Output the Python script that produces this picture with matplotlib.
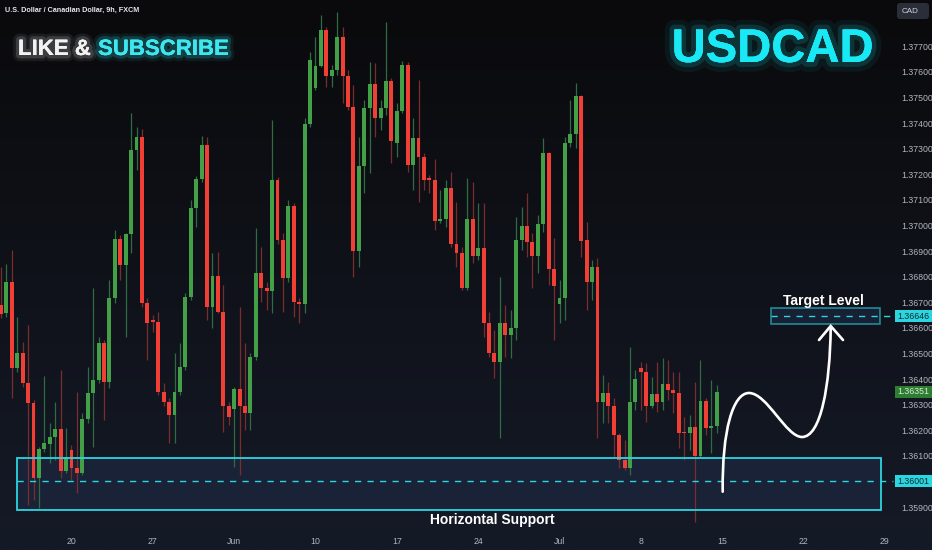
import numpy as np
import matplotlib
matplotlib.use('Agg')
import matplotlib.pyplot as plt
from matplotlib.patches import Rectangle, FancyBboxPatch, PathPatch
from matplotlib.path import Path
import matplotlib.patheffects as pe
import matplotlib.transforms as mtransforms
from matplotlib import font_manager

# ---------------- data (USDCAD, 9h candles) ----------------
opens = [1.36689, 1.36658, 1.36779, 1.36443, 1.36502, 1.36384, 1.36306, 1.36013, 1.36127, 1.36146,
         1.36173, 1.36205, 1.36041, 1.36123, 1.36052, 1.36033, 1.36244, 1.36345, 1.36396, 1.36541,
         1.36388, 1.36716, 1.36947, 1.36845, 1.36966, 1.37295, 1.37345, 1.36697, 1.36630, 1.36623,
         1.36349, 1.36310, 1.36259, 1.36349, 1.36447, 1.36720, 1.37068, 1.37181, 1.37314, 1.36681,
         1.36802, 1.36662, 1.36295, 1.36283, 1.36361, 1.36295, 1.36267, 1.36486, 1.36814, 1.36755,
         1.36744, 1.37177, 1.36943, 1.36795, 1.37076, 1.36701, 1.36693, 1.37396, 1.37537, 1.37623,
         1.37763, 1.37584, 1.37607, 1.37736, 1.37584, 1.37463, 1.36900, 1.37232, 1.37459, 1.37552,
         1.37420, 1.37459, 1.37564, 1.37322, 1.37447, 1.37627, 1.37236, 1.37341, 1.37267, 1.37185,
         1.37177, 1.37017, 1.37025, 1.37146, 1.36927, 1.36892, 1.36755, 1.37025, 1.36880, 1.36912,
         1.36619, 1.36502, 1.36466, 1.36619, 1.36572, 1.36599, 1.36943, 1.36998, 1.36935, 1.36880,
         1.37005, 1.37283, 1.36830, 1.36693, 1.36716, 1.37322, 1.37357, 1.37505, 1.36943, 1.36779,
         1.36838, 1.36310, 1.36345, 1.36295, 1.36181, 1.36084, 1.36052, 1.36310, 1.36443, 1.36427,
         1.36295, 1.36341, 1.36310, 1.36380, 1.36357, 1.36345, 1.36193, 1.36189, 1.36213, 1.36099,
         1.36314, 1.36209, 1.36216]
highs = [1.36838, 1.36849, 1.36904, 1.36642, 1.36545, 1.36611, 1.36318, 1.36134, 1.36412, 1.36228,
         1.36310, 1.36435, 1.36209, 1.36142, 1.36349, 1.36267, 1.36447, 1.36755, 1.36564, 1.36552,
         1.36787, 1.36982, 1.36962, 1.36970, 1.37439, 1.37384, 1.37377, 1.36716, 1.36650, 1.36662,
         1.36384, 1.36326, 1.36502, 1.36541, 1.36736, 1.37099, 1.37193, 1.37349, 1.37345, 1.36892,
         1.36896, 1.36767, 1.36310, 1.36369, 1.36681, 1.36541, 1.36502, 1.36990, 1.36916, 1.36779,
         1.37412, 1.37189, 1.36970, 1.37099, 1.37088, 1.36716, 1.37420, 1.37677, 1.37736, 1.37822,
         1.37775, 1.37627, 1.37834, 1.37775, 1.37607, 1.37548, 1.37345, 1.37490, 1.37638, 1.37634,
         1.37490, 1.37795, 1.37576, 1.37478, 1.37642, 1.37638, 1.37420, 1.37568, 1.37283, 1.37197,
         1.37259, 1.37138, 1.37177, 1.37209, 1.37091, 1.36916, 1.37185, 1.37170, 1.37088, 1.37088,
         1.36662, 1.36591, 1.36798, 1.36689, 1.36670, 1.37033, 1.37072, 1.37127, 1.36970, 1.37041,
         1.37341, 1.37287, 1.36951, 1.36787, 1.37345, 1.37490, 1.37556, 1.37509, 1.37013, 1.36865,
         1.36873, 1.36416, 1.36388, 1.36326, 1.36189, 1.36162, 1.36525, 1.36435, 1.36466, 1.36463,
         1.36408, 1.36466, 1.36482, 1.36474, 1.36427, 1.36427, 1.36252, 1.36259, 1.36388, 1.36474,
         1.36326, 1.36396, 1.36377]
lows = [1.36638, 1.36642, 1.36326, 1.36427, 1.36369, 1.35908, 1.35927, 1.35896, 1.36115, 1.36072,
        1.36084, 1.36013, 1.36033, 1.36005, 1.35955, 1.36025, 1.36228, 1.36134, 1.36384, 1.36240,
        1.36365, 1.36697, 1.36787, 1.36564, 1.36892, 1.37216, 1.36681, 1.36474, 1.36584, 1.36338,
        1.36295, 1.36150, 1.36150, 1.36338, 1.36435, 1.36709, 1.36994, 1.37170, 1.36630, 1.36599,
        1.36658, 1.36193, 1.36220, 1.36056, 1.36025, 1.36201, 1.36201, 1.36474, 1.36701, 1.36670,
        1.36658, 1.36927, 1.36662, 1.36779, 1.36642, 1.36619, 1.36658, 1.37384, 1.37529, 1.37619,
        1.37541, 1.37541, 1.37588, 1.37478, 1.37451, 1.36798, 1.36838, 1.37127, 1.37205, 1.37345,
        1.37373, 1.37431, 1.37244, 1.37267, 1.37439, 1.37209, 1.37138, 1.37091, 1.37138, 1.37127,
        1.36982, 1.37009, 1.36994, 1.36916, 1.36838, 1.36748, 1.36748, 1.36853, 1.36865, 1.36564,
        1.36486, 1.36404, 1.36170, 1.36486, 1.36482, 1.36552, 1.36904, 1.36877, 1.36755, 1.36814,
        1.36974, 1.36767, 1.36552, 1.36619, 1.36630, 1.37306, 1.37302, 1.36877, 1.36670, 1.36709,
        1.36170, 1.36228, 1.36228, 1.36095, 1.36052, 1.36045, 1.36025, 1.36279, 1.36279, 1.36232,
        1.36287, 1.36271, 1.36279, 1.36318, 1.36267, 1.36130, 1.36084, 1.36123, 1.35841, 1.36095,
        1.36181, 1.36111, 1.36189]
closes = [1.36654, 1.36779, 1.36443, 1.36502, 1.36384, 1.36306, 1.36013, 1.36127, 1.36150, 1.36173,
          1.36205, 1.36041, 1.36095, 1.36052, 1.36033, 1.36244, 1.36345, 1.36396, 1.36541, 1.36388,
          1.36716, 1.36947, 1.36845, 1.36966, 1.37295, 1.37345, 1.36697, 1.36619, 1.36623, 1.36349,
          1.36310, 1.36259, 1.36349, 1.36447, 1.36720, 1.37068, 1.37181, 1.37314, 1.36681, 1.36802,
          1.36662, 1.36295, 1.36252, 1.36361, 1.36295, 1.36267, 1.36486, 1.36814, 1.36755, 1.36744,
          1.37177, 1.36943, 1.36795, 1.37076, 1.36701, 1.36693, 1.37396, 1.37646, 1.37623, 1.37763,
          1.37584, 1.37607, 1.37736, 1.37584, 1.37463, 1.36900, 1.37232, 1.37459, 1.37552, 1.37420,
          1.37459, 1.37564, 1.37330, 1.37447, 1.37627, 1.37236, 1.37341, 1.37267, 1.37177, 1.37177,
          1.37017, 1.37025, 1.37146, 1.36927, 1.36892, 1.36755, 1.37025, 1.36880, 1.36912, 1.36619,
          1.36502, 1.36466, 1.36619, 1.36572, 1.36599, 1.36943, 1.36998, 1.36935, 1.36880, 1.37005,
          1.37283, 1.36830, 1.36763, 1.36716, 1.37322, 1.37357, 1.37505, 1.36939, 1.36779, 1.36838,
          1.36310, 1.36345, 1.36295, 1.36181, 1.36084, 1.36052, 1.36310, 1.36400, 1.36427, 1.36295,
          1.36341, 1.36310, 1.36380, 1.36357, 1.36345, 1.36189, 1.36189, 1.36213, 1.36099, 1.36314,
          1.36209, 1.36216, 1.36351]

date_tick_pos = [13, 28, 43, 58, 73, 88, 103, 118, 133, 148, 163]
date_tick_labels = ['20', '27', 'Jun', '10', '17', '24', 'Jul', '8', '15', '22', '29']
# 1.36000 is hidden behind the support-level label in the reference
price_ticks = [1.359, 1.361, 1.362, 1.363, 1.364, 1.365, 1.366, 1.367, 1.368,
               1.369, 1.370, 1.371, 1.372, 1.373, 1.374, 1.375, 1.376, 1.377]

support_low, support_high, support_line = 1.35888, 1.36091, 1.36001
target_low, target_high, target_line = 1.36615, 1.36677, 1.36646
last_price = 1.36351

# ---------------- fonts ----------------
names = {f.name for f in font_manager.fontManager.ttflist}
SANS = 'Liberation Sans' if 'Liberation Sans' in names else 'DejaVu Sans'
NARROW = 'Liberation Sans Narrow' if 'Liberation Sans Narrow' in names else SANS
narrow_ok = NARROW == 'Liberation Sans Narrow'

# ---------------- colours ----------------
UP, DOWN = '#43a047', '#f23f36'
UP_WICK, DOWN_WICK = '#2f6b43', '#7a2d2d'
CYAN = '#2bd6e0'
TICK_COL = '#b2b5be'

W, H = 932, 550
fig = plt.figure(figsize=(W / 100, H / 100), dpi=100)

# background gradient
bg = fig.add_axes([0, 0, 1, 1], zorder=-10)
top = np.array([10, 10, 12]) / 255.0
bot = np.array([21, 26, 39]) / 255.0
t = np.linspace(0, 1, 256)[:, None]
grad = top[None, None, :] * (1 - t[..., None]) + bot[None, None, :] * t[..., None]
grad = np.repeat(grad, 2, axis=1)
bg.imshow(grad, aspect='auto', extent=[0, 1, 0, 1], origin='upper')
bg.set_axis_off()

# main price axes
ax = fig.add_axes([0, 20 / H, 893 / W, 530 / H])
ax.patch.set_alpha(0)
n = len(opens)
idx = np.arange(n)
o = np.array(opens); c = np.array(closes); hi = np.array(highs); lo = np.array(lows)
up = c >= o
body_bottom = np.minimum(o, c)
body_h = np.maximum(np.abs(c - o), 0.00004)

ax.vlines(idx, lo, hi, colors=np.where(up, UP_WICK, DOWN_WICK), linewidth=0.9, zorder=2)
ax.bar(idx, body_h, bottom=body_bottom, width=0.72, color=np.where(up, UP, DOWN),
       linewidth=0, zorder=3)

ax.set_xlim(-0.18, 164.5)
ax.set_ylim(1.358102, 1.378805)

# support zone
ax.add_patch(Rectangle((2.95, support_low), 162.3 - 2.95, support_high - support_low,
                       facecolor='#1f2c48', alpha=0.55, edgecolor='none', zorder=1))
ax.add_patch(Rectangle((2.95, support_low), 162.3 - 2.95, support_high - support_low,
                       facecolor='none', edgecolor=CYAN, linewidth=1.3, zorder=5))
ax.plot([2.95, 164.5], [support_line, support_line], color=CYAN, linewidth=1.0,
        dashes=(4.5, 4.5), zorder=5, clip_on=False)

# target zone
ax.add_patch(Rectangle((142.0, target_low), 162.1 - 142.0, target_high - target_low,
                       facecolor='#1f2c48', alpha=0.55, edgecolor=CYAN, linewidth=1.3, zorder=5))
ax.plot([142.0, 164.5], [target_line, target_line], color=CYAN, linewidth=1.0,
        dashes=(4.5, 4.5), zorder=5, clip_on=False)

# axes styling
for s in ax.spines.values():
    s.set_visible(False)
ax.yaxis.tick_right()
ax.set_yticks(price_ticks)
ax.set_yticklabels([f'{p:.5f}' for p in price_ticks])
ax.set_xticks(date_tick_pos)
ax.set_xticklabels(date_tick_labels)
ax.tick_params(axis='y', length=0, pad=5.8, labelsize=6.3, labelcolor=TICK_COL)
ax.tick_params(axis='x', length=0, pad=5.0, labelsize=6.3, labelcolor=TICK_COL)
for lab in ax.get_xticklabels() + ax.get_yticklabels():
    lab.set_fontfamily(SANS)

# price labels on the right scale
trans = mtransforms.blended_transform_factory(ax.transAxes, ax.transData)
lab_h = 12 / 25600
for price, fc, tc in [(target_line, CYAN, '#0d2a30'), (last_price, '#2e7d32', '#d8ecd8'),
                      (support_line, CYAN, '#0d2a30')]:
    ax.add_patch(Rectangle((895 / 893, price - lab_h / 2), 37 / 893, lab_h, transform=trans,
                           facecolor=fc, edgecolor='none', clip_on=False, zorder=6))
    ax.text(913.5 / 893, price, f'{price:.5f}', transform=trans, ha='center', va='center',
            fontsize=6.3, color=tc, family=SANS, zorder=7, clip_on=False)

# ---------------- overlay in pixel units ----------------
ov = fig.add_axes([0, 0, 1, 1], zorder=10)
ov.set_xlim(0, W); ov.set_ylim(H, 0)
ov.set_axis_off(); ov.patch.set_alpha(0)

ov.text(5, 10, 'U.S. Dollar / Canadian Dollar, 9h, FXCM', ha='left', va='center',
        fontsize=6.0 if narrow_ok else 5.2, color='#e6e8ee', family=NARROW, weight='bold')

big = 19.5 if narrow_ok else 16
glow_w = [pe.withStroke(linewidth=9, foreground='white', alpha=0.07),
          pe.withStroke(linewidth=5, foreground='white', alpha=0.15), pe.Normal()]
glow_c = [pe.withStroke(linewidth=9, foreground='#2be8f2', alpha=0.08),
          pe.withStroke(linewidth=5, foreground='#2be8f2', alpha=0.18), pe.Normal()]
ov.text(18, 55, 'LIKE &', ha='left', va='baseline', fontsize=big, color='#f2f2f2',
        family=NARROW, weight='bold', path_effects=glow_w)
ov.text(98, 55, 'SUBSCRIBE', ha='left', va='baseline', fontsize=big, color='#3ee6ef',
        family=NARROW, weight='bold', path_effects=glow_c)

ov.text(772.5, 62, 'USDCAD', ha='center', va='baseline', fontsize=41 if narrow_ok else 34,
        color='#19e9f5', family=NARROW, weight='bold',
        path_effects=[pe.withStroke(linewidth=14, foreground='#19e9f5', alpha=0.06),
                      pe.withStroke(linewidth=7, foreground='#19e9f5', alpha=0.14), pe.Normal()])

ov.text(823, 305, 'Target Level', ha='center', va='baseline', fontsize=12 if narrow_ok else 10,
        color='white', family=NARROW, weight='bold')
ov.text(492, 524, 'Horizontal Support', ha='center', va='baseline',
        fontsize=12 if narrow_ok else 10, color='white', family=NARROW, weight='bold')

# CAD box
ov.add_patch(FancyBboxPatch((897, 3), 32, 16, boxstyle='round,pad=0,rounding_size=3',
                            facecolor='#2a2e39', edgecolor='none'))
ov.text(902, 11.5, 'CAD', ha='left', va='center', fontsize=5.8, color='#d1d4dc', family=SANS)

# forecast arrow
verts = [(722.7, 491.7), (722, 430), (733, 393), (749, 393),
         (767, 393), (786, 437), (802, 437),
         (821, 437), (830, 385), (830.7, 328)]
codes = [Path.MOVETO] + [Path.CURVE4] * 9
ov.add_patch(PathPatch(Path(verts, codes), facecolor='none', edgecolor='white',
                       linewidth=1.9, capstyle='round'))
ov.plot([819, 830.7, 843], [340, 326, 340], color='white', linewidth=1.9,
        solid_capstyle='round', solid_joinstyle='miter')

fig.savefig('out.png', dpi=100)
